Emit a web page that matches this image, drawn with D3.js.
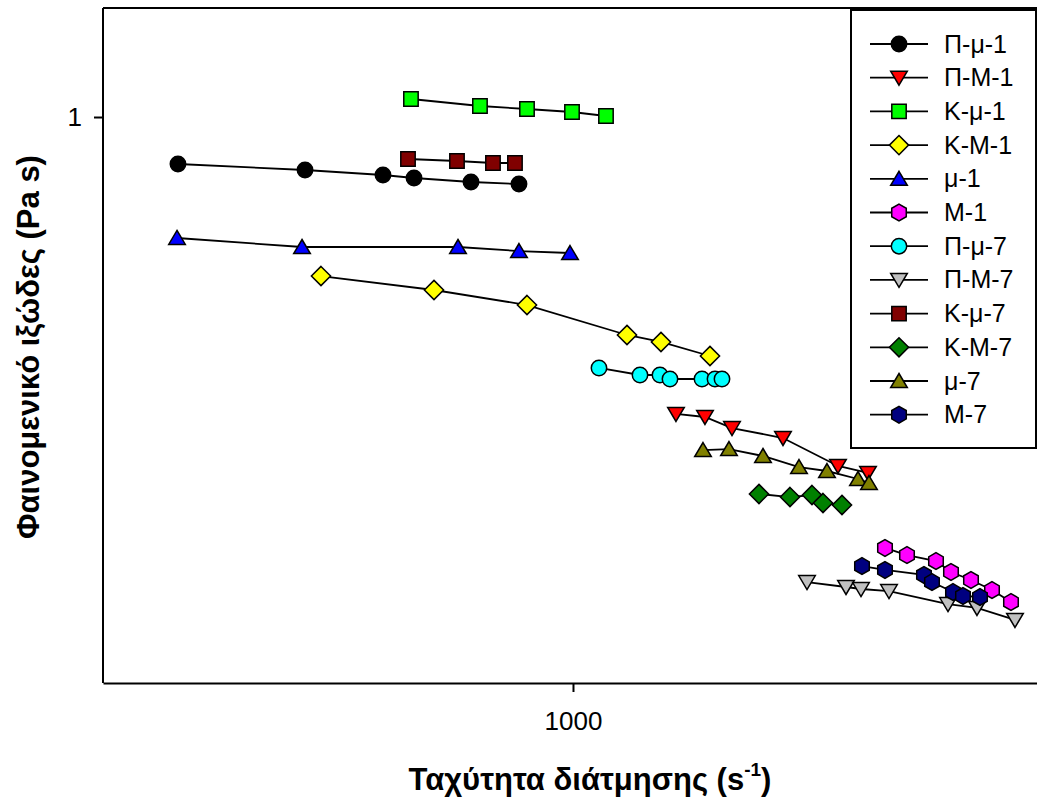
<!DOCTYPE html>
<html><head><meta charset="utf-8">
<script src="https://cdn.jsdelivr.net/npm/d3@7"></script>
<style>body{margin:0;background:#fff}svg{display:block;font-family:"Liberation Sans",Arial,sans-serif}</style>
</head><body><svg id="c" width="1037" height="801"></svg>
<script>
// ---- data (shear rate s^-1, apparent viscosity Pa s) ----
const seriesNames = ["Π-μ-1","Π-Μ-1","Κ-μ-1","Κ-Μ-1","μ-1","Μ-1","Π-μ-7","Π-Μ-7","Κ-μ-7","Κ-Μ-7","μ-7","Μ-7"];
const seriesColors = ["#000000","#ff0000","#00ff00","#ffff00","#0000ff","#ff00ff","#00ffff","#c0c0c0","#800000","#008000","#808000","#000080"];
const seriesSymbols = ["circle","triDown","square","diamond","triUp","hexagon","circle","triDown","square","diamond","triUp","hexagon"];

const rate_Pmu1 = [219.6, 357.6, 482.3, 543.3, 676.1, 812.8];
const visc_Pmu1 = [0.8568, 0.8400, 0.8263, 0.8182, 0.8075, 0.8022];
const rate_PM1 = [1484.8, 1659.6, 1840.8, 2238.7, 2764.8, 3102.2];
const visc_PM1 = [0.3765, 0.3728, 0.3595, 0.3479, 0.3173, 0.3101];
const rate_Kmu1 = [537.0, 699.8, 838.2, 996.2, 1135.0];
const visc_Kmu1 = [1.0610, 1.0369, 1.0267, 1.0166, 1.0033];
const rate_KM1 = [380.2, 586.6, 838.2, 1230.3, 1401.7, 1691.7];
const visc_KM1 = [0.5927, 0.5661, 0.5388, 0.4882, 0.4771, 0.4556];
const rate_mu1 = [218.8, 353.5, 643.2, 812.8, 988.6];
const visc_mu1 = [0.6717, 0.6521, 0.6521, 0.6435, 0.6393];
const rate_M1 = [3311.3, 3603.1, 4027.3, 4265.8, 4606.1, 4992.7, 5370.4];
const visc_M1 = [0.2423, 0.2367, 0.2321, 0.2239, 0.2181, 0.2110, 0.2028];
const rate_Pmu7 = [1104.9, 1293.2, 1396.3, 1451.0, 1640.6, 1724.6, 1771.5];
const visc_Pmu7 = [0.4380, 0.4280, 0.4280, 0.4224, 0.4224, 0.4224, 0.4224];
const rate_PM7 = [2454.8, 2851.1, 3020.0, 3362.6, 4217.0, 4713.4, 5453.5];
const visc_PM7 = [0.2166, 0.2131, 0.2117, 0.2103, 0.2015, 0.1989, 0.1912];
const rate_Kmu7 = [530.9, 640.7, 735.6, 800.4];
const visc_Kmu7 = [0.8710, 0.8653, 0.8596, 0.8596];
const rate_KM7 = [2041.8, 2299.7, 2502.3, 2610.2, 2807.6];
const visc_KM7 = [0.2894, 0.2865, 0.2884, 0.2809, 0.2791];
const rate_mu7 = [1646.9, 1819.7, 2073.4, 2380.6, 2650.5, 2985.4, 3114.1];
const visc_mu7 = [0.3344, 0.3355, 0.3279, 0.3162, 0.3121, 0.3040, 0.3000];
const rate_M7 = [3031.6, 3311.3, 3845.9, 3965.8, 4298.7, 4466.8, 4768.0];
const visc_M7 = [0.2283, 0.2254, 0.2217, 0.2166, 0.2096, 0.2069, 0.2062];

const xTicks = [1000];
const yTicks = [1];
const xTitle = "Ταχύτητα διάτμησης (s";
const xTitleSup = "-1";
const yTitle = "Φαινομενικό ιξώδες (Pa s)";

const rates = [rate_Pmu1, rate_PM1, rate_Kmu1, rate_KM1, rate_mu1, rate_M1, rate_Pmu7, rate_PM7, rate_Kmu7, rate_KM7, rate_mu7, rate_M7];
const viscs = [visc_Pmu1, visc_PM1, visc_Kmu1, visc_KM1, visc_mu1, visc_M1, visc_Pmu7, visc_PM7, visc_Kmu7, visc_KM7, visc_mu7, visc_M7];

// ---- layout ----
const svg = d3.select("#c");
const L = 103, R = 1037, T = 8, B = 683;
const x = d3.scaleLog().domain([164.7, 5934]).range([L, R]);
const y = d3.scaleLog().domain([0.1554, 1.4313]).range([B, T]);

function markerPath(type) {
  switch (type) {
    case "circle": { const r = 7.7; return `M${r},0A${r},${r} 0 1,1 ${-r},0A${r},${r} 0 1,1 ${r},0Z`; }
    case "square": { const h = 7.2; return `M${-h},${-h}H${h}V${h}H${-h}Z`; }
    case "diamond": { const h = 9.6; return `M0,${-h}L${h},0L0,${h}L${-h},0Z`; }
    case "triUp": return "M0,-7.5L8.3,6.5L-8.3,6.5Z";
    case "triDown": return "M0,7.5L8.3,-6.5L-8.3,-6.5Z";
    case "hexagon": {
      const r = 8.4; const pts = [];
      for (let i = 0; i < 6; i++) { const a = (-90 + 60 * i) * Math.PI / 180; pts.push([r * Math.cos(a), r * Math.sin(a)]); }
      return "M" + pts.map(p => p[0].toFixed(2) + "," + p[1].toFixed(2)).join("L") + "Z";
    }
  }
}

// frame
svg.append("line").attr("x1", L).attr("x2", R).attr("y1", T).attr("y2", T).attr("stroke", "#000").attr("stroke-width", 2);

// axes
const xAxis = svg.append("g").attr("transform", `translate(0,${B})`)
  .call(d3.axisBottom(x).tickValues(xTicks).tickFormat(d3.format("d")).tickSize(9).tickSizeOuter(0).tickPadding(20));
const yAxis = svg.append("g").attr("transform", `translate(${L},0)`)
  .call(d3.axisLeft(y).tickValues(yTicks).tickFormat(d3.format("d")).tickSize(9).tickSizeOuter(0).tickPadding(12));
[xAxis, yAxis].forEach(g => {
  g.select(".domain").attr("stroke", "#000").attr("stroke-width", 2);
  g.selectAll(".tick line").attr("stroke", "#000").attr("stroke-width", 2);
  g.selectAll(".tick text").attr("font-size", 26).attr("fill", "#000").attr("font-family", '"Liberation Sans",Arial,sans-serif');
});
yAxis.select(".domain").attr("d", `M0,${T}V${B}`);

// series
const line = d3.line().x(d => x(d[0])).y(d => y(d[1]));
seriesNames.forEach((name, i) => {
  const pts = rates[i].map((r, j) => [r, viscs[i][j]]);
  const g = svg.append("g");
  g.append("path").attr("d", line(pts)).attr("fill", "none").attr("stroke", "#000").attr("stroke-width", 1.8);
  g.selectAll("path.m").data(pts).enter().append("path").attr("class", "m")
    .attr("transform", d => `translate(${x(d[0])},${y(d[1])})`)
    .attr("d", markerPath(seriesSymbols[i]))
    .attr("fill", seriesColors[i]).attr("stroke", "#000").attr("stroke-width", 1.5);
});

// legend
const lg = svg.append("g");
lg.append("rect").attr("x", 851).attr("y", 10).attr("width", 185).attr("height", 438)
  .attr("fill", "#fff").attr("stroke", "#000").attr("stroke-width", 2);
seriesNames.forEach((name, i) => {
  const cy = 44 + i * 33.7;
  lg.append("line").attr("x1", 870).attr("x2", 928).attr("y1", cy).attr("y2", cy).attr("stroke", "#000").attr("stroke-width", 1.8);
  lg.append("path").attr("transform", `translate(899,${cy})`).attr("d", markerPath(seriesSymbols[i]))
    .attr("fill", seriesColors[i]).attr("stroke", "#000").attr("stroke-width", 1.5);
  lg.append("text").attr("x", 944).attr("y", cy + 8.5).attr("font-size", 25).attr("fill", "#000").text(name);
});

// titles
const xt = svg.append("text").attr("x", 590).attr("y", 790).attr("text-anchor", "middle")
  .attr("font-size", 31).attr("font-weight", "bold").attr("fill", "#000");
xt.append("tspan").text(xTitle);
xt.append("tspan").attr("font-size", 19).attr("dy", -14).text(xTitleSup);
xt.append("tspan").attr("dy", 14).text(")");

svg.append("text").attr("transform", "translate(39,347) rotate(-90)").attr("text-anchor", "middle")
  .attr("font-size", 31).attr("font-weight", "bold").attr("fill", "#000").text(yTitle);
</script>
</body></html>
